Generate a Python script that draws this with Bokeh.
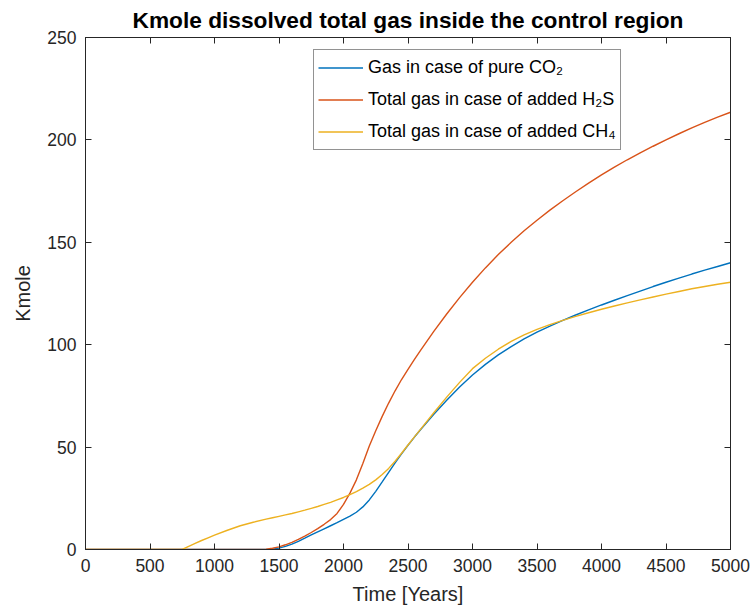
from bokeh.plotting import figure
from bokeh.models import Range1d, LinearAxis, FixedTicker, Legend, LegendItem
from bokeh.embed import file_html
from bokeh.resources import INLINE

# Time axis (years) shared by all three series
years = [0, 500, 750, 800, 850, 900, 950, 1000, 1100, 1200, 1300, 1400, 1450,
         1500, 1550, 1600, 1650, 1700, 1750, 1800, 1850, 1900, 1950, 2000,
         2050, 2100, 2150, 2200, 2250, 2300, 2350, 2400, 2450, 2500, 2550,
         2600, 2700, 2800, 2900, 3000, 3100, 3200, 3300, 3400, 3500, 3600,
         3700, 3800, 3900, 4000, 4100, 4200, 4300, 4400, 4500, 4600, 4700,
         4800, 4900, 5000]

# Dissolved gas [Kmole]
pure_co2 = [0, 0, 0, 0, 0, 0, 0, 0, 0, 0, 0, 0, 0.1,
            0.7, 1.5, 2.6, 4.0, 5.5, 7.1, 8.6, 10.1, 11.6, 13.1, 14.7,
            16.3, 18.2, 20.8, 24.2, 28.4, 33.0, 37.7, 42.3, 46.7, 50.9, 54.9,
            58.7, 66.0, 72.9, 79.3, 85.2, 90.4, 95.0, 99.1, 102.8, 106.1, 109.1,
            111.9, 114.5, 117.0, 119.4, 121.7, 124.0, 126.2, 128.4, 130.5, 132.5, 134.5,
            136.4, 138.2, 140.0]
added_h2s = [0, 0, 0, 0, 0, 0, 0, 0, 0, 0, 0, 0.2, 0.6,
             1.3, 2.3, 3.5, 4.9, 6.5, 8.3, 10.2, 12.3, 14.6, 17.6, 22.0,
             27.5, 34.0, 42.0, 50.5, 58.0, 65.0, 71.5, 77.5, 83.0, 88.0, 92.8,
             97.5, 106.5, 115.0, 123.0, 130.5, 137.5, 144.0, 150.0, 155.6, 160.8, 165.7,
             170.3, 174.7, 178.9, 182.9, 186.7, 190.3, 193.7, 196.9, 200.0, 203.0, 205.9,
             208.6, 211.1, 213.5]
added_ch4 = [0, 0, 0, 1.5, 3.0, 4.4, 5.7, 7.0, 9.4, 11.6, 13.3, 14.8, 15.5,
             16.2, 16.9, 17.6, 18.4, 19.2, 20.1, 21.0, 22.0, 23.0, 24.2, 25.4,
             26.8, 28.3, 30.0, 31.8, 34.0, 36.6, 39.6, 43.1, 47.0, 51.0, 55.0,
             58.9, 66.8, 74.4, 81.6, 88.3, 93.4, 97.8, 101.6, 104.8, 107.5, 109.8,
             111.9, 113.8, 115.6, 117.3, 118.9, 120.4, 121.9, 123.3, 124.7, 126.0, 127.3,
             128.4, 129.5, 130.5]

x_ticks = [0, 500, 1000, 1500, 2000, 2500, 3000, 3500, 4000, 4500, 5000]
y_ticks = [0, 50, 100, 150, 200, 250]

series_labels = ["Gas in case of pure CO\u2082",
                 "Total gas in case of added H\u2082S",
                 "Total gas in case of added CH\u2084"]
series_colors = ["#0072BD", "#D95319", "#EDB120"]

FONT = "Liberation Sans"
AXIS_COLOR = "#262626"

p = figure(width=755, height=616, output_backend="svg", toolbar_location=None,
           x_range=Range1d(0, 5000), y_range=Range1d(0, 250),
           min_border_left=85, min_border_right=25,
           min_border_top=37, min_border_bottom=67,
           title="Kmole dissolved total gas inside the control region")

p.background_fill_color = "white"
p.border_fill_color = "white"
p.outline_line_color = AXIS_COLOR
p.outline_line_width = 1
p.grid.visible = False

p.title.align = "center"
p.title.text_font = FONT
p.title.text_font_size = "22.7px"
p.title.text_font_style = "bold"
p.title.text_color = "black"
p.title.standoff = 9

# mirrored axes on top and right: inward ticks, no labels
p.add_layout(LinearAxis(), "above")
p.add_layout(LinearAxis(), "right")

for ax in p.xaxis:
    ax.ticker = FixedTicker(ticks=x_ticks)
for ax in p.yaxis:
    ax.ticker = FixedTicker(ticks=y_ticks)

for ax in p.xaxis + p.yaxis:
    ax.axis_line_color = AXIS_COLOR
    ax.major_tick_line_color = AXIS_COLOR
    ax.major_tick_in = 6
    ax.major_tick_out = 0
    ax.minor_tick_line_color = None
    ax.major_label_text_font = FONT
    ax.major_label_text_font_size = "17.5px"
    ax.major_label_text_color = AXIS_COLOR
    ax.axis_label_text_font = FONT
    ax.axis_label_text_font_size = "20px"
    ax.axis_label_text_font_style = "normal"
    ax.axis_label_text_color = AXIS_COLOR

bottom, left = p.below[0], p.left[0]
top, right = p.above[0], p.right[0]

bottom.axis_label = "Time [Years]"
bottom.major_label_standoff = 9
bottom.axis_label_standoff = 8
left.axis_label = "Kmole"
left.major_label_standoff = 9
left.axis_label_standoff = 10

for ax in (top, right):
    ax.major_label_text_color = None
    ax.major_label_text_font_size = "0px"
    ax.major_label_standoff = 0
    ax.axis_label = None

renderers = []
for vals, col in zip([pure_co2, added_h2s, added_ch4], series_colors):
    renderers.append(p.line(years, vals, line_color=col, line_width=1.4))

legend = Legend(items=[LegendItem(label=lab, renderers=[r])
                       for lab, r in zip(series_labels, renderers)],
                location=(228, 399))
legend.border_line_color = AXIS_COLOR
legend.border_line_width = 1
legend.background_fill_color = "white"
legend.background_fill_alpha = 1
legend.label_text_font = FONT
legend.label_text_font_size = "18px"
legend.label_text_color = "black"
legend.glyph_width = 45
legend.glyph_height = 27
legend.label_height = 27
legend.spacing = 5
legend.padding = 4
legend.label_standoff = 5
legend.margin = 0
p.add_layout(legend)

open("out.html", "w").write(file_html(p, INLINE))
